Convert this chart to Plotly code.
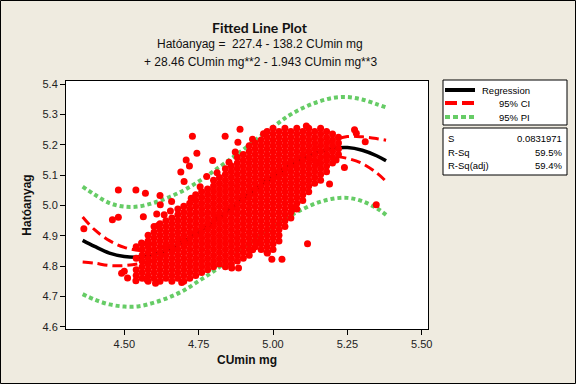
import plotly.graph_objects as go

# ---------------- data ----------------
fit_x = [4.36, 4.40, 4.45, 4.50, 4.55, 4.60, 4.65, 4.70, 4.75, 4.80, 4.85,
         4.90, 4.95, 5.00, 5.05, 5.10, 5.15, 5.20, 5.25, 5.30, 5.35, 5.38]
fit_y = [4.885, 4.865, 4.843, 4.832, 4.830, 4.838, 4.856, 4.881, 4.912, 4.947, 4.985,
         5.023, 5.061, 5.096, 5.128, 5.155, 5.175, 5.188, 5.191, 5.182, 5.163, 5.147]
ci_upper = [4.962, 4.920, 4.884, 4.862, 4.852, 4.854, 4.868, 4.891, 4.921, 4.955, 4.993,
            5.031, 5.069, 5.105, 5.138, 5.168, 5.193, 5.214, 5.227, 5.226, 5.220, 5.215]
ci_lower = [4.814, 4.810, 4.802, 4.802, 4.808, 4.822, 4.844, 4.871, 4.903, 4.939, 4.977,
            5.015, 5.053, 5.087, 5.118, 5.142, 5.157, 5.162, 5.155, 5.138, 5.106, 5.079]
pi_upper = [5.062, 5.036, 5.008, 4.996, 4.997, 5.009, 5.027, 5.050, 5.079, 5.113, 5.148,
            5.184, 5.222, 5.258, 5.294, 5.321, 5.341, 5.354, 5.357, 5.349, 5.333, 5.323]
pi_lower = [4.708, 4.690, 4.674, 4.667, 4.668, 4.680, 4.697, 4.720, 4.751, 4.783, 4.820,
            4.858, 4.896, 4.930, 4.962, 4.988, 5.009, 5.022, 5.025, 5.014, 4.990, 4.969]

# scattered observations outside / on the edge of the dense cloud
outlier_x = [4.729, 4.889, 4.839, 4.882, 4.744, 4.708, 4.797, 4.690, 4.719, 4.777, 4.701,
             4.480, 4.539, 4.571, 4.620, 4.621, 4.659, 4.609, 4.634, 4.480, 4.460, 4.564,
             4.364, 4.614, 4.491, 4.539, 4.577, 4.511, 4.500, 4.558, 4.581, 4.861, 4.884,
             5.274, 5.280, 5.310, 5.240, 5.190, 5.347, 5.116, 5.075, 5.149, 5.212, 4.996,
             5.030, 4.981, 4.932, 4.949,
             4.655, 4.755, 4.812, 4.852, 4.873, 4.931, 4.968, 4.605, 4.693, 4.725, 5.112]
outlier_y = [5.228, 5.251, 5.228, 5.208, 5.172, 5.150, 5.148, 5.110, 5.130, 5.095, 5.079,
             5.051, 5.051, 5.040, 5.033, 5.002, 5.013, 4.972, 4.969, 4.961, 4.953, 4.963,
             4.923, 4.934, 4.777, 4.752, 4.755, 4.761, 4.783, 4.876, 4.873, 4.794, 4.794,
             5.249, 5.238, 5.210, 5.125, 5.071, 5.002, 4.874, 4.990, 5.141, 5.150, 4.823,
             4.823, 4.843, 4.854, 4.876,
             4.982, 5.062, 5.108, 5.142, 5.176, 5.218, 5.236, 4.744, 4.746, 5.024, 5.262]

# dense cloud, read column by column
core_col_x = [4.54, 4.56, 4.58, 4.60, 4.62, 4.64, 4.66, 4.68, 4.70, 4.72, 4.74, 4.76,
              4.78, 4.80, 4.82, 4.84, 4.86, 4.88, 4.90, 4.92, 4.94, 4.96, 4.98, 5.00,
              5.02, 5.04, 5.06, 5.08, 5.10, 5.12, 5.14, 5.16, 5.18, 5.20, 5.22]
core_col_y = [
    [4.769, 4.788, 4.826, 4.864],
    [4.760, 4.779, 4.798, 4.817, 4.836, 4.855, 4.874],
    [4.750, 4.769, 4.788, 4.807, 4.826, 4.845, 4.864, 4.883, 4.902],
    [4.760, 4.779, 4.798, 4.817, 4.836, 4.855, 4.874, 4.893, 4.912, 4.931],
    [4.750, 4.769, 4.788, 4.807, 4.826, 4.845, 4.864, 4.883, 4.902, 4.921, 4.940],
    [4.760, 4.779, 4.798, 4.817, 4.836, 4.855, 4.874, 4.893, 4.912, 4.931, 4.950],
    [4.750, 4.769, 4.788, 4.807, 4.826, 4.845, 4.864, 4.883, 4.902, 4.921, 4.940, 4.959],
    [4.760, 4.779, 4.798, 4.817, 4.836, 4.855, 4.874, 4.893, 4.912, 4.931, 4.950, 4.969, 4.988],
    [4.750, 4.769, 4.788, 4.807, 4.826, 4.845, 4.864, 4.883, 4.902, 4.921, 4.940, 4.959, 4.978, 4.997],
    [4.760, 4.779, 4.798, 4.817, 4.836, 4.855, 4.874, 4.893, 4.912, 4.931, 4.950, 4.969, 4.988, 5.007],
    [4.769, 4.788, 4.807, 4.826, 4.845, 4.864, 4.883, 4.902, 4.921, 4.940, 4.959, 4.978, 4.997, 5.016, 5.035],
    [4.779, 4.798, 4.817, 4.836, 4.855, 4.874, 4.893, 4.912, 4.931, 4.950, 4.969, 4.988, 5.007, 5.026, 5.045],
    [4.788, 4.807, 4.826, 4.845, 4.864, 4.883, 4.902, 4.921, 4.940, 4.959, 4.978, 4.997, 5.016, 5.035, 5.054],
    [4.798, 4.817, 4.836, 4.855, 4.874, 4.893, 4.912, 4.931, 4.950, 4.969, 4.988, 5.007, 5.026, 5.045, 5.064, 5.083],
    [4.807, 4.826, 4.845, 4.864, 4.883, 4.902, 4.921, 4.940, 4.959, 4.978, 4.997, 5.016, 5.035, 5.054, 5.073, 5.092],
    [4.798, 4.817, 4.836, 4.855, 4.874, 4.893, 4.912, 4.931, 4.950, 4.969, 4.988, 5.007, 5.026, 5.045, 5.064, 5.083, 5.102, 5.121],
    [4.807, 4.826, 4.845, 4.864, 4.883, 4.902, 4.921, 4.940, 4.959, 4.978, 4.997, 5.016, 5.035, 5.054, 5.073, 5.092, 5.111, 5.130],
    [4.817, 4.836, 4.855, 4.874, 4.893, 4.912, 4.931, 4.950, 4.969, 4.988, 5.007, 5.026, 5.045, 5.064, 5.083, 5.102, 5.121, 5.140, 5.159],
    [4.826, 4.845, 4.864, 4.883, 4.902, 4.921, 4.940, 4.959, 4.978, 4.997, 5.016, 5.035, 5.054, 5.073, 5.092, 5.111, 5.130, 5.149, 5.168],
    [4.836, 4.855, 4.874, 4.893, 4.912, 4.931, 4.950, 4.969, 4.988, 5.007, 5.026, 5.045, 5.064, 5.083, 5.102, 5.121, 5.140, 5.159, 5.178, 5.197],
    [4.864, 4.883, 4.902, 4.921, 4.940, 4.959, 4.978, 4.997, 5.016, 5.035, 5.054, 5.073, 5.092, 5.111, 5.130, 5.149, 5.168, 5.187, 5.206],
    [4.855, 4.874, 4.893, 4.912, 4.931, 4.950, 4.969, 4.988, 5.007, 5.026, 5.045, 5.064, 5.083, 5.102, 5.121, 5.140, 5.159, 5.178, 5.197, 5.216],
    [4.845, 4.864, 4.883, 4.902, 4.921, 4.940, 4.959, 4.978, 4.997, 5.016, 5.035, 5.054, 5.073, 5.092, 5.111, 5.130, 5.149, 5.168, 5.187, 5.206, 5.225, 5.244],
    [4.855, 4.874, 4.893, 4.912, 4.931, 4.950, 4.969, 4.988, 5.007, 5.026, 5.045, 5.064, 5.083, 5.102, 5.121, 5.140, 5.159, 5.178, 5.197, 5.216, 5.235, 5.254],
    [4.883, 4.902, 4.921, 4.940, 4.959, 4.978, 4.997, 5.016, 5.035, 5.054, 5.073, 5.092, 5.111, 5.130, 5.149, 5.168, 5.187, 5.206, 5.225, 5.244],
    [4.931, 4.950, 4.969, 4.988, 5.007, 5.026, 5.045, 5.064, 5.083, 5.102, 5.121, 5.140, 5.159, 5.178, 5.197, 5.216, 5.235, 5.254],
    [4.959, 4.978, 4.997, 5.016, 5.035, 5.054, 5.073, 5.092, 5.111, 5.130, 5.149, 5.168, 5.187, 5.206, 5.225, 5.244],
    [4.988, 5.007, 5.026, 5.045, 5.064, 5.083, 5.102, 5.121, 5.140, 5.159, 5.178, 5.197, 5.216, 5.235, 5.254],
    [5.016, 5.035, 5.054, 5.073, 5.092, 5.111, 5.130, 5.149, 5.168, 5.187, 5.206, 5.225, 5.244],
    [5.045, 5.064, 5.083, 5.102, 5.121, 5.140, 5.159, 5.178, 5.197, 5.216, 5.235, 5.254],
    [5.073, 5.092, 5.111, 5.130, 5.149, 5.168, 5.187, 5.206, 5.225, 5.244],
    [5.083, 5.102, 5.121, 5.140, 5.159, 5.178, 5.197, 5.216, 5.235, 5.254],
    [5.111, 5.130, 5.149, 5.168, 5.187, 5.206, 5.225, 5.244],
    [5.140, 5.159, 5.178, 5.197, 5.216, 5.235],
    [5.168, 5.187, 5.206, 5.225],
]

x_ticks = [4.50, 4.75, 5.00, 5.25, 5.50]
x_tick_labels = ["4.50", "4.75", "5.00", "5.25", "5.50"]
y_ticks = [4.6, 4.7, 4.8, 4.9, 5.0, 5.1, 5.2, 5.3, 5.4]
y_tick_labels = ["4.6", "4.7", "4.8", "4.9", "5.0", "5.1", "5.2", "5.3", "5.4"]

legend_labels = ["Regression", "95% CI", "95% PI"]
stat_names = ["S", "R-Sq", "R-Sq(adj)"]
stat_values = ["0.0831971", "59.5%", "59.4%"]

title_lines = ["Fitted Line Plot",
               "Hatóanyag = \u00a0227.4 - 138.2 CUmin mg",
               "+ 28.46 CUmin mg**2 - 1.943 CUmin mg**3"]

# ---------------- styles ----------------
RED = "#FF0000"
GREEN = "#66CC66"
BG = "#EFEBE0"
FONT = "Liberation Sans"

pts_x = []
pts_y = []
for cx, ys in zip(core_col_x, core_col_y):
    for yv in ys:
        pts_x.append(cx)
        pts_y.append(yv)
pts_x += outlier_x
pts_y += outlier_y

fig = go.Figure()
fig.add_trace(go.Scatter(x=fit_x, y=pi_upper, mode="lines", line=dict(color=GREEN, width=4, dash="4px,3px", shape="spline"), showlegend=False))
fig.add_trace(go.Scatter(x=fit_x, y=pi_lower, mode="lines", line=dict(color=GREEN, width=4, dash="4px,3px", shape="spline"), showlegend=False))
fig.add_trace(go.Scatter(x=fit_x, y=ci_upper, mode="lines", line=dict(color=RED, width=3, dash="10px,5px", shape="spline"), showlegend=False))
fig.add_trace(go.Scatter(x=fit_x, y=ci_lower, mode="lines", line=dict(color=RED, width=3, dash="10px,5px", shape="spline"), showlegend=False))
fig.add_trace(go.Scatter(x=fit_x, y=fit_y, mode="lines", line=dict(color="black", width=3.5, shape="spline"), showlegend=False))
fig.add_trace(go.Scatter(x=pts_x, y=pts_y, mode="markers", marker=dict(color=RED, size=7, line=dict(width=0)), showlegend=False))

L, R, T, B = 66, 148, 81, 55
PW, PH = 576 - L - R, 384 - T - B


def xp(px):
    return (px - L) / PW


def yp(py):
    return (384 - B - py) / PH


shapes = [
    dict(type="rect", xref="paper", yref="paper", x0=xp(0.5), x1=xp(575.5), y0=yp(383.5), y1=yp(0.5),
         line=dict(color="#000000", width=1)),
    dict(type="rect", xref="paper", yref="paper", x0=xp(443), x1=xp(567), y0=yp(125), y1=yp(80),
         fillcolor="white", line=dict(color="black", width=1)),
    dict(type="rect", xref="paper", yref="paper", x0=xp(443), x1=xp(567), y0=yp(175), y1=yp(128),
         fillcolor="white", line=dict(color="black", width=1)),
]
sample_styles = [dict(color="black", width=4), dict(color=RED, width=4, dash="12px,5px"),
                 dict(color=GREEN, width=4, dash="5px,3px")]
sample_y = [90, 103, 117]
for st, sy in zip(sample_styles, sample_y):
    shapes.append(dict(type="line", xref="paper", yref="paper", x0=xp(445), x1=xp(475), y0=yp(sy), y1=yp(sy), line=st))

annotations = []
for txt, ty, size, bold in zip(title_lines, [27.5, 44.5, 61.5], [14, 12, 12], [True, False, False]):
    annotations.append(dict(xref="paper", yref="paper", x=xp(260), y=yp(ty), text=("<b>%s</b>" % txt) if bold else txt,
                            showarrow=False, xanchor="center", yanchor="middle",
                            font=dict(family="Lato" if bold else FONT, size=size, color="#111111")))
for txt, sy in zip(legend_labels, sample_y):
    annotations.append(dict(xref="paper", yref="paper", x=xp(532), y=yp(sy), text=txt, showarrow=False,
                            xanchor="right", yanchor="middle", font=dict(family=FONT, size=9.5, color="black")))
for name, val, sy in zip(stat_names, stat_values, [138.5, 152, 165.5]):
    annotations.append(dict(xref="paper", yref="paper", x=xp(446), y=yp(sy), text=name, showarrow=False,
                            xanchor="left", yanchor="middle", font=dict(family=FONT, size=9.5, color="black")))
    annotations.append(dict(xref="paper", yref="paper", x=xp(564), y=yp(sy), text=val, showarrow=False,
                            xanchor="right", yanchor="middle", font=dict(family=FONT, size=9.5, color="black")))

fig.update_layout(
    width=576, height=384,
    margin=dict(l=L, r=R, t=T, b=B, pad=0),
    paper_bgcolor=BG, plot_bgcolor="white",
    font=dict(family=FONT, size=11, color="#222222"),
    shapes=shapes, annotations=annotations,
    xaxis=dict(range=[4.304, 5.521], tickvals=x_ticks, ticktext=x_tick_labels, ticks="outside", ticklen=5,
               tickcolor="black", showline=True, linecolor="black", linewidth=1, mirror=True,
               showgrid=False, zeroline=False, tickfont=dict(size=11),
               title=dict(text="<b>CUmin mg</b>", font=dict(size=12, color="#111111"), standoff=6)),
    yaxis=dict(range=[4.593, 5.41], tickvals=y_ticks, ticktext=y_tick_labels, ticks="outside", ticklen=5,
               tickcolor="black", showline=True, linecolor="black", linewidth=1, mirror=True,
               showgrid=False, zeroline=False, tickfont=dict(size=11),
               title=dict(text="<b>Hatóanyag</b>", font=dict(size=12, color="#111111"), standoff=8)),
)

fig.write_html("out.html", config={"displayModeBar": False},
               post_script="document.body.style.margin='0px';document.body.style.overflow='hidden';")
